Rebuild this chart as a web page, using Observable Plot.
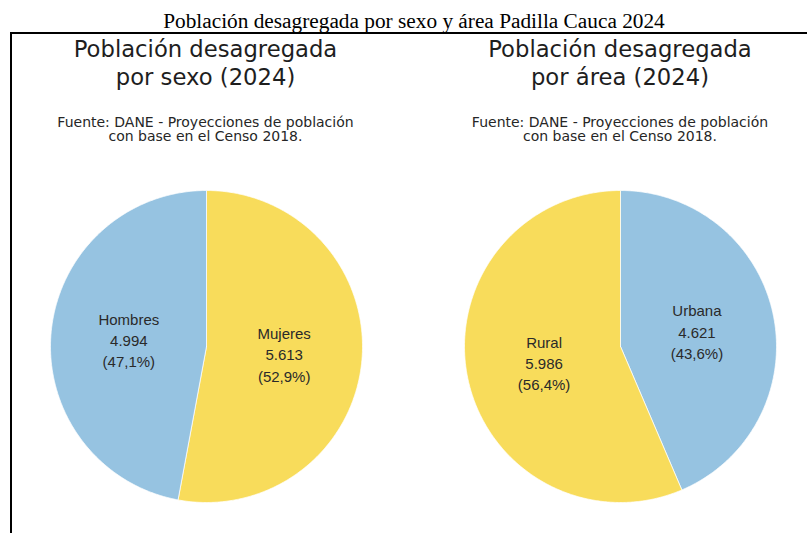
<!DOCTYPE html>
<html>
<head>
<meta charset="utf-8">
<script src="https://cdn.jsdelivr.net/npm/d3@7"></script>
<script src="https://cdn.jsdelivr.net/npm/@observablehq/plot@0.6"></script>
<style>
  html, body { margin: 0; padding: 0; background: #fff; }
  body { position: relative; width: 807px; height: 533px; overflow: hidden; }
  .abs { position: absolute; }
  #title { left: 114px; width: 600px; top: 11px; text-align: center; font-family: "Liberation Serif", "Times New Roman", serif; font-size: 20px; line-height: 20px; color: #000; white-space: nowrap; transform: scaleX(1.065); transform-origin: 50% 50%; }
  #box { left: 10px; top: 32px; width: 900px; height: 600px; border-left: 2px solid #000; border-top: 2px solid #000; }
  .head { width: 400px; text-align: center; font-family: "DejaVu Sans", Verdana, sans-serif; font-size: 22.7px; line-height: 28px; color: #1e1e1e; top: 35.1px; white-space: pre; }
  .src { width: 400px; text-align: center; font-family: "DejaVu Sans", Verdana, sans-serif; font-size: 14px; line-height: 14.3px; color: #262626; top: 114.6px; white-space: pre; }
  .pie { top: 186px; }
</style>
</head>
<body>
<div id="title" class="abs"></div>
<div id="box" class="abs"></div>
<div id="head1" class="abs head"></div>
<div id="head2" class="abs head"></div>
<div id="src1" class="abs src"></div>
<div id="src2" class="abs src"></div>
<div id="pie1" class="abs pie"></div>
<div id="pie2" class="abs pie"></div>
<script>
// ---- Data ----
const chartTitle = "Población desagregada por sexo y área Padilla Cauca 2024";
const panelTitles = ["Población desagregada\npor sexo (2024)", "Población desagregada\npor área (2024)"];
const sourceText = "Fuente: DANE - Proyecciones de población\ncon base en el Censo 2018.";
const sexCategories = ["Mujeres", "Hombres"];
const sexValues = [5613, 4994];
const areaCategories = ["Urbana", "Rural"];
const areaValues = [4621, 5986];

// ---- Style / layout ----
const BLUE = "#96c3e1";
const YELLOW = "#f8dc5b";
const sexColors = [YELLOW, BLUE];
const areaColors = [BLUE, YELLOW];
const centersX = [205.5, 620];
const R = 156;
const HALF = 160;

const loc = d3.formatLocale({decimal: ",", thousands: ".", grouping: [3], currency: ["$", ""]});
const fmtInt = loc.format(",d");
const fmtPct = loc.format(".1f");

document.getElementById("title").textContent = chartTitle;
["head1", "head2"].forEach((id, i) => {
  const el = document.getElementById(id);
  el.textContent = panelTitles[i];
  el.style.left = (centersX[i] - 200) + "px";
});
["src1", "src2"].forEach((id, i) => {
  const el = document.getElementById(id);
  el.textContent = sourceText;
  el.style.left = (centersX[i] - 200) + "px";
});

function piePlot(categories, values, colors) {
  const total = d3.sum(values);
  const arcs = d3.pie().sort(null).value(d => d)(values);
  const pts = [];
  arcs.forEach((a, i) => {
    const n = Math.max(2, Math.ceil((a.endAngle - a.startAngle) / (Math.PI / 360)));
    pts.push({k: categories[i], x: 0, y: 0});
    for (let j = 0; j <= n; j++) {
      const t = a.startAngle + (a.endAngle - a.startAngle) * j / n;
      pts.push({k: categories[i], x: R * Math.sin(t), y: R * Math.cos(t)});
    }
    pts.push({k: categories[i], x: 0, y: 0});
  });
  const labels = arcs.map((a, i) => {
    const m = (a.startAngle + a.endAngle) / 2;
    return {
      x: R * 0.5 * Math.sin(m),
      y: R * 0.5 * Math.cos(m),
      text: `${categories[i]}\n${fmtInt(values[i])}\n(${fmtPct(values[i] / total * 100)}%)`
    };
  });
  return Plot.plot({
    width: 2 * HALF,
    height: 2 * HALF,
    margin: 0,
    style: {background: "transparent", overflow: "visible"},
    x: {domain: [-HALF, HALF], axis: null},
    y: {domain: [-HALF, HALF], axis: null},
    color: {domain: categories, range: colors},
    marks: [
      Plot.line(pts, {x: "x", y: "y", z: "k", fill: "k", stroke: "white", strokeWidth: 0.8, strokeOpacity: 0.9, curve: "linear"}),
      Plot.text(labels, {x: "x", y: "y", text: "text", fontSize: 15, lineHeight: 1.42, fill: "#2a2a2a", fontFamily: "'Liberation Sans', Arial, sans-serif", lineAnchor: "middle"})
    ]
  });
}

const p1 = document.getElementById("pie1");
p1.style.left = (centersX[0] - HALF) + "px";
p1.appendChild(piePlot(sexCategories, sexValues, sexColors));
const p2 = document.getElementById("pie2");
p2.style.left = (centersX[1] - HALF) + "px";
p2.appendChild(piePlot(areaCategories, areaValues, areaColors));
</script>
</body>
</html>
